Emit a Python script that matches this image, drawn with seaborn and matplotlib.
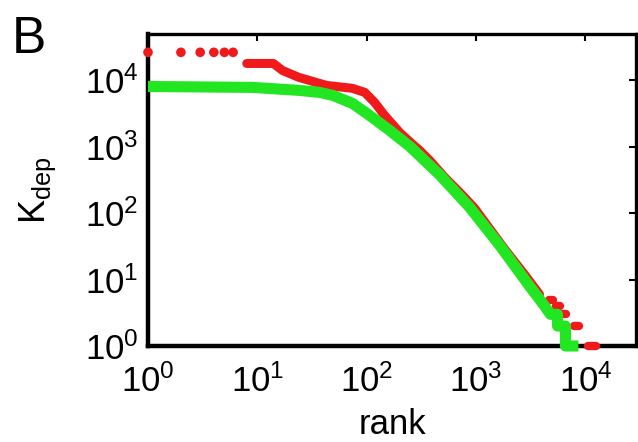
import matplotlib
matplotlib.use("Agg")
import matplotlib.pyplot as plt
import numpy as np
import pandas as pd
import seaborn as sns

# ---- data (rank-ordered K_dep) ----
red_top_rank = [1, 2, 3, 4, 5, 6]
red_top_k = [26500, 26500, 26500, 26500, 26500, 26500]

red_rank = [8, 14, 17, 24, 43, 74, 96, 118, 146, 200, 258, 305, 376, 515,
            707, 969, 1820, 2770, 3800]
red_k = [18000, 18000, 14100, 11100, 8400, 7600, 6600, 4670, 2960, 1650,
         1120, 885, 626, 348, 207, 119, 29, 12, 6]

# red tail plateaus (integer K values)
red_tail_k = [5, 4, 3, 2, 1]
red_tail_start = [4600, 5400, 6200, 7800, 10600]
red_tail_end = [5100, 5900, 6700, 8800, 12400]

green_rank = [1, 9, 24, 37, 49, 74, 106, 162, 247, 464, 873, 1640, 3080,
              4230, 4790, 5550, 5560, 6560, 6570, 8630]
green_k = [8100, 7850, 7080, 6600, 5950, 4510, 2980, 1770, 1020, 380, 123,
           33, 8, 4, 3, 3, 2, 2, 1, 1]

x_ticks = [1, 10, 100, 1000, 10000]
y_ticks = [1, 10, 100, 1000, 10000]

RED = "#f01a1a"
GREEN = "#22e622"

sns.set_style("white")
plt.rcParams["font.family"] = ["Liberation Sans", "DejaVu Sans"]
plt.rcParams["mathtext.default"] = "regular"
plt.rcParams["text.color"] = "black"
plt.rcParams["axes.labelcolor"] = "black"

fig = plt.figure(figsize=(6.38, 4.42), dpi=100)
ax = fig.add_axes([148 / 638, 96 / 442, 488 / 638, 312 / 442])

df_red = pd.DataFrame({"rank": red_rank, "k": red_k})
df_top = pd.DataFrame({"rank": red_top_rank, "k": red_top_k})
tail_rows = []
for i, (kv, s, e) in enumerate(zip(red_tail_k, red_tail_start, red_tail_end)):
    tail_rows.append({"rank": s, "k": kv, "seg": i})
    tail_rows.append({"rank": e, "k": kv, "seg": i})
df_tail = pd.DataFrame(tail_rows)
df_green = pd.DataFrame({"rank": green_rank, "k": green_k})

sns.lineplot(data=df_red, x="rank", y="k", ax=ax, color=RED, lw=6.5,
             sort=False, estimator=None, solid_capstyle="round",
             clip_on=False, zorder=3)
sns.lineplot(data=df_tail, x="rank", y="k", units="seg", ax=ax, color=RED,
             lw=6, sort=False, estimator=None, solid_capstyle="round",
             clip_on=False, zorder=3)
sns.scatterplot(data=df_top, x="rank", y="k", ax=ax, color=RED, s=48,
                edgecolor="none", clip_on=False, zorder=3)
sns.lineplot(data=df_green, x="rank", y="k", ax=ax, color=GREEN, lw=8,
             sort=False, estimator=None, solid_capstyle="butt",
             clip_on=False, zorder=4)

ax.set_xscale("log")
ax.set_yscale("log")
ax.set_xlim(1, 2.9e4)
ax.set_ylim(1, 5e4)
ax.set_xticks(x_ticks)
ax.set_yticks(y_ticks)

for side, sp in ax.spines.items():
    sp.set_visible(True)
    sp.set_color("black")
    sp.set_linewidth(3.2 if side in ("left", "bottom") else 2.4)

ax.tick_params(axis="both", which="major", direction="in", length=5, width=1.5,
               top=True, right=True, labelsize=25, colors="black")
ax.tick_params(axis="x", which="major", pad=13)
ax.tick_params(axis="y", which="major", pad=7)
ax.tick_params(axis="both", which="minor", direction="in", length=2.5,
               width=1, top=True, right=True)

ax.set_xlabel("rank", fontsize=25, labelpad=7, color="black")
ax.set_ylabel("$K_{dep}$", fontsize=26, labelpad=19, color="black")

fig.text(12 / 638, 1 - 53 / 442, "B", fontsize=37, ha="left", va="baseline",
         color="black")

fig.savefig("out.png", dpi=100)
